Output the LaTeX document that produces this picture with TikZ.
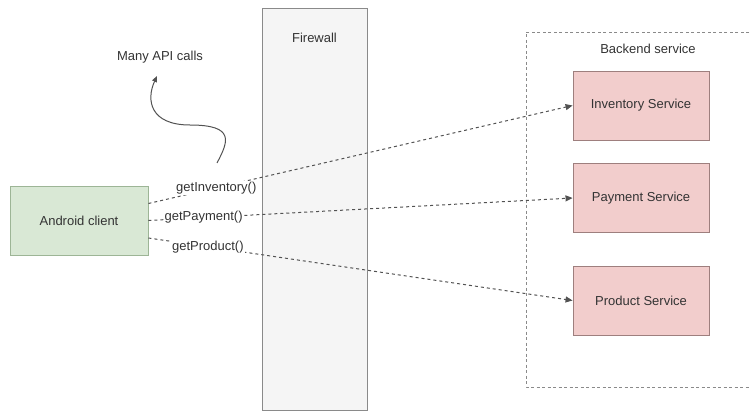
\documentclass[tikz,border=0pt]{standalone}
\usepackage{fontspec}
\setmainfont{Liberation Sans}
\usetikzlibrary{arrows.meta}
\definecolor{clientfill}{HTML}{D9E8D5}
\definecolor{clientline}{HTML}{9DB596}
\definecolor{svcfill}{HTML}{F2CDCC}
\definecolor{svcline}{HTML}{9E7F7E}
\definecolor{fwfill}{HTML}{F5F5F5}
\definecolor{fwline}{HTML}{8A8A8A}
\definecolor{txt}{HTML}{333333}
\tikzset{
  base/.style={font=\fontsize{13}{15}\selectfont, text=txt},
  clientbox/.style={base, draw=clientline, fill=clientfill, line width=0.9pt,
    minimum width=138pt, minimum height=69pt, inner sep=0pt},
  svcbox/.style={base, draw=svcline, fill=svcfill, line width=0.9pt,
    minimum width=136pt, minimum height=69pt, inner sep=0pt},
  call/.style={draw=txt!85, dashed, dash pattern=on 3pt off 3pt, line width=1pt,
    -{Triangle[length=7pt,width=6pt]}},
  calllabel/.style={base, fill=white, inner sep=1pt},
}
\begin{document}
\begin{tikzpicture}[x=1pt,y=-1pt]
\useasboundingbox (0,0) rectangle (750,412);
% backend container (runs past the right edge)
\draw[fwline, dashed, dash pattern=on 3pt off 2.5pt, line width=0.9pt]
  (760,32) -- (526,32) -- (526,387) -- (760,387);
\node[base] (backend) at (648,49) {Backend service};
% firewall column
\node[base, draw=fwline, fill=fwfill, line width=0.9pt, minimum width=105pt,
  minimum height=402pt, inner sep=0pt, anchor=north west] (fw) at (262,8) {};
\node[base] (fwlabel) at (314.5,38) {Firewall};
% client and services
\node[clientbox] (client) at (79,220.5) {Android client};
\node[svcbox] (inv) at (641,105.5) {Inventory Service};
\node[svcbox] (pay) at (641,198) {Payment Service};
\node[svcbox] (prod) at (641,300.5) {Product Service};
% calls
\draw[call] ([yshift=17pt]client.east) -- node[calllabel, pos=0.16] {getInventory()} (inv.west);
\draw[call] (client.east) -- node[calllabel, pos=0.13] {getPayment()} (pay.west);
\draw[call] ([yshift=-17.5pt]client.east) -- node[calllabel, pos=0.14] {getProduct()} (prod.west);
% note
\node[base] (note) at (160,57) {Many API calls};
\coordinate (tail) at (217,163);
\draw[txt!85, line width=1pt, -{Triangle[length=6pt,width=5pt]}]
  (tail) .. controls (228,142) and (236,125) .. (190,125)
  .. controls (150,125) and (146,100) .. (157,76);
\end{tikzpicture}
\end{document}
